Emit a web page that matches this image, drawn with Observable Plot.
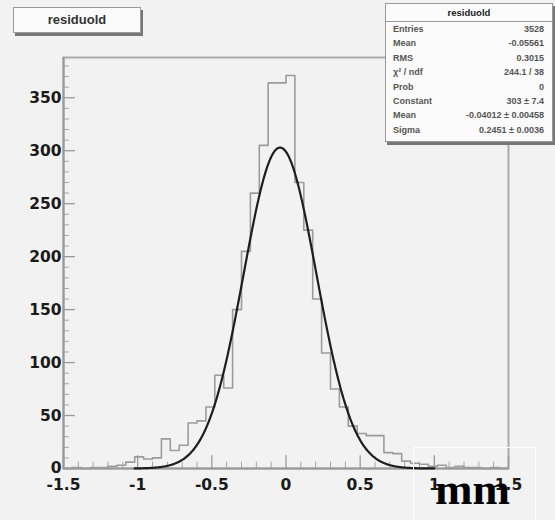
<!DOCTYPE html>
<html>
<head>
<meta charset="utf-8">
<script src="https://cdn.jsdelivr.net/npm/d3@7"></script>
<script src="https://cdn.jsdelivr.net/npm/@observablehq/plot@0.6"></script>
<style>
  html, body { margin: 0; padding: 0; background: #f2f2f2; }
  #wrap { position: relative; width: 555px; height: 520px; overflow: hidden; background: #f2f2f2; }
  #wrap svg { position: absolute; left: 0; top: 0; }
  .box { position: absolute; background: #fbfbfb; border: 1px solid #9a9a9a; box-shadow: 2px 3px 0 #777; font-family: "Liberation Sans", Arial, sans-serif; font-weight: bold; color: #333; }
  #title { left: 13px; top: 7px; width: 126px; height: 24px; font-size: 13px; line-height: 24px; text-align: center; }
  #stats { left: 385px; top: 3px; width: 166px; height: 137px; font-size: 9px; }
  #stats .hdr { height: 17px; line-height: 17px; text-align: center; border-bottom: 1px solid #9a9a9a; font-size: 9.5px; color: #222; }
  #stats .row { display: flex; justify-content: space-between; padding: 0 8px 0 7px; height: 14.4px; line-height: 14.4px; color: #555; }
  #unit { position: absolute; left: 413px; top: 447px; width: 121px; height: 80px; border: 1px solid #fdfdfd; }
  #unit span { position: absolute; left: 21px; top: 19px; font-family: "Liberation Serif", "Times New Roman", serif; font-weight: bold; font-size: 45px; line-height: 45px; color: #000; }
</style>
</head>
<body>
<div id="wrap"></div>
<script>
// ---- data ----
const histName = "residuold";
const histMin = -1.5;
const binWidth = 0.06;
const counts = [
  0, 1, 0, 1, 1, 2, 3, 6, 11, 9,
  10, 28, 17, 22, 43, 45, 58, 88, 76, 150,
  205, 260, 305, 364, 364, 371, 270, 225, 160, 109,
  75, 58, 40, 33, 31, 31, 15, 14, 7, 5,
  4, 2, 3, 1, 2, 1, 1, 0, 1, 0
];
const xTicks = [-1.5, -1, -0.5, 0, 0.5, 1, 1.5];
const yTicks = [0, 50, 100, 150, 200, 250, 300, 350];
const xMinorTicks = [-1.4,-1.3,-1.2,-1.1,-0.9,-0.8,-0.7,-0.6,-0.4,-0.3,-0.2,-0.1,0.1,0.2,0.3,0.4,0.6,0.7,0.8,0.9,1.1,1.2,1.3,1.4];
const yMinorTicks = [10,20,30,40,60,70,80,90,110,120,130,140,160,170,180,190,210,220,230,240,260,270,280,290,310,320,330,340,360,370,380];
// Gaussian fit parameters (from the stats box)
const fitConstant = 303, fitConstantErr = 7.4;
const fitMean = -0.04012, fitMeanErr = 0.00458;
const fitSigma = 0.2451, fitSigmaErr = 0.0036;
const fitRange = [-1.02, 1.0];
const chi2Text = "244.1 / 38";
const probText = "0";
const unitText = "mm";

// ---- derived tables ----
const bins = counts.map((c, i) => ({lo: histMin + i * binWidth, hi: histMin + (i + 1) * binWidth, c}));
const steps = [{x: bins[0].lo, y: 0}];
for (const b of bins) { steps.push({x: b.lo, y: b.c}); steps.push({x: b.hi, y: b.c}); }
steps.push({x: bins[bins.length - 1].hi, y: 0});

const gauss = x => fitConstant * Math.exp(-0.5 * ((x - fitMean) / fitSigma) ** 2);
const fitCurve = d3.range(fitRange[0], fitRange[1] + 1e-9, 0.004).map(x => ({x, y: gauss(x)}));

const N = d3.sum(counts);
const mean = d3.sum(bins, b => b.c * (b.lo + b.hi) / 2) / N;
const rms = Math.sqrt(d3.sum(bins, b => b.c * ((b.lo + b.hi) / 2 - mean) ** 2) / N);

const labelFont = {fontFamily: "DejaVu Sans, sans-serif", fontSize: 15.5, fontWeight: "bold", fill: "#1a1a1a"};

const chart = Plot.plot({
  width: 555,
  height: 520,
  marginLeft: 63,
  marginRight: 47,
  marginTop: 57,
  marginBottom: 52,
  style: {background: "transparent", overflow: "visible"},
  x: {domain: [-1.5, 1.5]},
  y: {domain: [0, 388]},
  marks: [
    Plot.frame({stroke: "#ababab", strokeWidth: 2}),
    // tick marks pointing into the frame
    Plot.ruleX(xTicks, {x: d => d, y1: 0, y2: 12, stroke: "#9a9a9a", strokeWidth: 1.3}),
    Plot.ruleX(xMinorTicks, {x: d => d, y1: 0, y2: 6, stroke: "#a5a5a5", strokeWidth: 1}),
    Plot.ruleY(yTicks, {y: d => d, x1: -1.5, x2: -1.5 + 0.08, stroke: "#9a9a9a", strokeWidth: 1.3}),
    Plot.ruleY(yMinorTicks, {y: d => d, x1: -1.5, x2: -1.5 + 0.04, stroke: "#a5a5a5", strokeWidth: 1}),
    Plot.axisX(xTicks, {tickSize: 0, tickPadding: 10, tickFormat: d => String(d), label: null, ...labelFont}),
    Plot.axisY(yTicks, {tickSize: 0, tickPadding: 2, tickFormat: d => String(d), label: null, ...labelFont}),
    Plot.ruleX([-1.5], {stroke: "#999", strokeWidth: 2}),
    Plot.ruleY([0], {stroke: "#999", strokeWidth: 2}),
    // histogram outline
    Plot.line(steps, {x: "x", y: "y", stroke: "#9c9c9c", strokeWidth: 1.6}),
    // gaussian fit
    Plot.line(fitCurve, {x: "x", y: "y", stroke: "#1e1e1e", strokeWidth: 2.2, curve: "linear"})
  ]
});

const wrap = document.getElementById("wrap");
wrap.appendChild(chart);

const title = document.createElement("div");
title.className = "box"; title.id = "title"; title.textContent = histName;
wrap.appendChild(title);

const stats = document.createElement("div");
stats.className = "box"; stats.id = "stats";
const rows = [
  ["Entries", String(N)],
  ["Mean", mean.toPrecision(4)],
  ["RMS", rms.toPrecision(4)],
  ["\u03C7\u00B2 / ndf", chi2Text],
  ["Prob", probText],
  ["Constant", `${fitConstant} \u00B1 ${fitConstantErr}`],
  ["Mean", `${fitMean} \u00B1 ${fitMeanErr}`],
  ["Sigma", `${fitSigma} \u00B1 ${fitSigmaErr}`]
];
stats.innerHTML = `<div class="hdr">${histName}</div>` +
  rows.map(([k, v]) => `<div class="row"><span>${k}</span><span>${v}</span></div>`).join("");
wrap.appendChild(stats);

const unit = document.createElement("div");
unit.id = "unit";
unit.innerHTML = `<span>${unitText}</span>`;
wrap.appendChild(unit);
</script>
</body>
</html>
